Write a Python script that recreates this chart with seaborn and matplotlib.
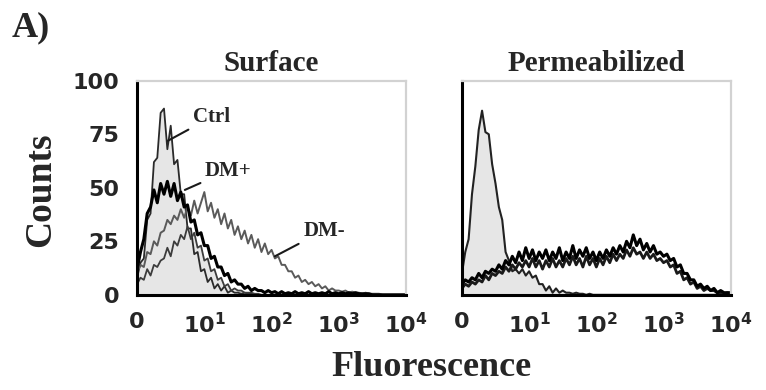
import matplotlib.pyplot as plt
import numpy as np
import pandas as pd
import seaborn as sns

# channel positions in decades of fluorescence (0 = 10^0 ... 4 = 10^4)
decades = np.round(np.arange(0, 4.001, 0.05), 2)
tick_pos = [0, 1, 2, 3, 4]
tick_labels = ["0", r"$\mathbf{10^{1}}$", r"$\mathbf{10^{2}}$",
               r"$\mathbf{10^{3}}$", r"$\mathbf{10^{4}}$"]
count_ticks = [0, 25, 50, 75, 100]

# Surface staining
surface_ctrl = [8, 15, 17, 35, 38, 62, 64, 85, 87, 68,
                79, 61, 63, 47, 47, 31, 31, 19, 20, 11,
                12, 6, 8, 3, 5, 2, 4, 1, 2, 1,
                1, 0.5, 1, 0.5, 0.5, 0, 0, 0, 0, 0,
                0, 0, 0, 0, 0, 0, 0, 0, 0, 0,
                0, 0, 0, 0, 0, 0, 0, 0, 0, 0,
                0, 0, 0, 0, 0, 0, 0, 0, 0, 0,
                0, 0, 0, 0, 0, 0, 0, 0, 0, 0,
                0]
surface_iso = [5, 8, 7, 12, 9, 14, 13, 16, 17, 22,
               18, 25, 23, 28, 26, 32, 26, 29, 22, 23,
               16, 17, 11, 12, 7, 8, 4, 5, 2, 3,
               2, 2, 1, 1, 1, 0.5, 0.5, 0, 0, 0,
               0, 0, 0, 0, 0, 0, 0, 0, 0, 0,
               0, 0, 0, 0, 0, 0, 0, 0, 0, 0,
               0, 0, 0, 0, 0, 0, 0, 0, 0, 0,
               0, 0, 0, 0, 0, 0, 0, 0, 0, 0,
               0]
surface_dm_plus = [12, 20, 26, 38, 41, 49, 43, 52, 47, 53,
                   46, 52, 44, 48, 41, 42, 34, 35, 28, 29,
                   23, 23, 17, 18, 13, 13, 9, 10, 6, 7,
                   5, 5, 3, 4, 2, 3, 2, 2, 1, 2,
                   1, 1.5, 0.5, 1.5, 0.5, 1, 0.5, 1.5, 0.5, 1,
                   0.5, 1.5, 0.5, 1, 0.5, 1, 0.5, 1.5, 0.5, 1,
                   0.5, 1, 0.5, 1, 0.5, 1, 0.5, 0.5, 0.5, 0.5,
                   0, 0, 0, 0, 0, 0, 0, 0, 0, 0,
                   0]
surface_dm_minus = [10, 14, 13, 20, 19, 25, 23, 29, 30, 35,
                    33, 37, 35, 40, 36, 41, 37, 44, 38, 43,
                    48, 39, 43, 36, 40, 33, 38, 31, 35, 28,
                    32, 26, 30, 24, 28, 22, 26, 20, 24, 19,
                    21, 17, 18, 14, 14, 11, 11, 8, 9, 6,
                    7, 5, 6, 4, 5, 3, 4, 2, 3, 2,
                    2, 1.5, 2, 1, 1.5, 1, 1, 0.5, 1, 0.5,
                    0.5, 0.5, 0.5, 0, 0, 0, 0, 0, 0, 0,
                    0]

# Permeabilized staining
perm_ctrl = [10, 20, 26, 47, 60, 77, 86, 76, 75, 61,
             52, 41, 35, 20, 16, 11, 12, 10, 12, 9,
             11, 8, 9, 5, 5, 2, 4, 1, 3, 1,
             2, 1, 1, 0.5, 1, 0.5, 0.5, 0, 0.5, 0,
             0, 0, 0, 0, 0, 0, 0, 0, 0, 0,
             0, 0, 0, 0, 0, 0, 0, 0, 0, 0,
             0, 0, 0, 0, 0, 0, 0, 0, 0, 0,
             0, 0, 0, 0, 0, 0, 0, 0, 0, 0,
             0]
perm_dm_plus = [5, 7, 6, 8, 7, 10, 8, 11, 10, 12,
                11, 14, 12, 16, 14, 18, 15, 20, 16, 22,
                17, 21, 16, 20, 17, 21, 16, 20, 17, 22,
                16, 20, 17, 23, 17, 21, 18, 22, 17, 20,
                16, 20, 17, 21, 18, 22, 19, 23, 20, 25,
                22, 28, 23, 26, 21, 24, 20, 23, 19, 20,
                18, 19, 16, 17, 13, 14, 10, 10, 7, 7,
                4, 5, 3, 4, 2, 3, 1, 2, 1, 1,
                1]
perm_dm_minus = [3, 5, 4, 6, 5, 7, 6, 9, 7, 10,
                 9, 11, 10, 13, 11, 14, 12, 15, 13, 16,
                 13, 17, 13, 16, 12, 16, 13, 17, 13, 16,
                 13, 17, 14, 18, 14, 17, 13, 18, 14, 17,
                 13, 17, 14, 18, 15, 19, 16, 19, 17, 21,
                 18, 22, 19, 20, 17, 20, 17, 19, 16, 17,
                 15, 16, 13, 14, 10, 11, 7, 8, 5, 6,
                 3, 4, 2, 3, 2, 2, 1, 1, 0.5, 1,
                 0.5]

SERIF = "Liberation Serif"
SANS = "DejaVu Sans"


def to_long(curves):
    frames = []
    for name, values in curves.items():
        frames.append(pd.DataFrame({"decade": decades, "count": values, "sample": name}))
    return pd.concat(frames, ignore_index=True)


def style_axes(ax, show_labels):
    ax.set_xlim(0, 4)
    ax.set_ylim(0, 100)
    ax.set_xticks(tick_pos)
    ax.set_yticks(count_ticks)
    ax.set_xticklabels(tick_labels)
    if show_labels:
        ax.set_yticklabels([str(t) for t in count_ticks])
    else:
        ax.set_yticklabels([])
    for lab in ax.get_xticklabels() + ax.get_yticklabels():
        lab.set_fontfamily(SANS)
        lab.set_fontweight("bold")
        lab.set_fontsize(16)
    ax.tick_params(axis="x", direction="out", length=9, width=2, pad=3, color="black")
    ax.tick_params(axis="y", direction="out", length=7, width=2, pad=6, color="black")
    for side in ["left", "bottom"]:
        ax.spines[side].set_color("black")
        ax.spines[side].set_linewidth(2.2)
    for side in ["top", "right"]:
        ax.spines[side].set_visible(True)
        ax.spines[side].set_color("#d2d2d2")
        ax.spines[side].set_linewidth(1.6)
    ax.set_xlabel("")
    ax.set_ylabel("")
    ax.grid(False)


sns.set_style("white")
plt.rcParams["mathtext.fontset"] = "dejavusans"

fig = plt.figure(figsize=(7.66, 3.9), dpi=100)
ax_surf = fig.add_axes([0.179, 0.244, 0.351, 0.549])
ax_perm = fig.add_axes([0.603, 0.244, 0.351, 0.549])

fill_color = "#e6e6e6"

# Surface panel
surf_df = to_long({"Ctrl": surface_ctrl, "Iso": surface_iso,
                   "DM-": surface_dm_minus, "DM+": surface_dm_plus})
ax_surf.fill_between(decades, surface_ctrl, color=fill_color, lw=0)
ax_surf.fill_between(decades, surface_iso, color=fill_color, lw=0)
sns.lineplot(data=surf_df, x="decade", y="count", hue="sample", ax=ax_surf,
             palette={"Ctrl": "#2a2a2a", "Iso": "#3c3c3c", "DM-": "#5a5a5a", "DM+": "#000000"},
             size="sample", sizes={"Ctrl": 1.3, "Iso": 1.3, "DM-": 1.4, "DM+": 2.2},
             legend=False)
style_axes(ax_surf, True)
ax_surf.set_title("Surface", fontfamily=SERIF, fontweight="bold", fontsize=21, pad=7)

note = dict(fontfamily=SERIF, fontweight="bold", fontsize=15, ha="left", va="center")
line = dict(arrowstyle="-", color="#1a1a1a", lw=1.5, shrinkA=1, shrinkB=0)
ax_surf.annotate("Ctrl", xy=(0.46, 72), xytext=(0.83, 83), arrowprops=line, **note)
ax_surf.annotate("DM+", xy=(0.71, 49), xytext=(1.01, 58), arrowprops=line, **note)
ax_surf.annotate("DM-", xy=(2.05, 18), xytext=(2.47, 30), arrowprops=line, **note)

# Permeabilized panel
perm_df = to_long({"Ctrl": perm_ctrl, "DM-": perm_dm_minus, "DM+": perm_dm_plus})
ax_perm.fill_between(decades, perm_ctrl, color=fill_color, lw=0)
sns.lineplot(data=perm_df, x="decade", y="count", hue="sample", ax=ax_perm,
             palette={"Ctrl": "#222222", "DM-": "#1a1a1a", "DM+": "#000000"},
             size="sample", sizes={"Ctrl": 1.5, "DM-": 2.0, "DM+": 2.2},
             legend=False)
style_axes(ax_perm, False)
ax_perm.set_title("Permeabilized", fontfamily=SERIF, fontweight="bold", fontsize=21, pad=7)

fig.text(41 / 766, 1 - 190 / 390, "Counts", rotation=90, ha="center", va="center",
         fontfamily=SERIF, fontweight="bold", fontsize=27)
fig.text(431 / 766, 1 - 367 / 390, "Fluorescence", ha="center", va="center",
         fontfamily=SERIF, fontweight="bold", fontsize=26)
fig.text(12 / 766, 1 - 28 / 390, "A)", ha="left", va="center",
         fontfamily=SERIF, fontweight="bold", fontsize=26)

fig.savefig("out.png", dpi=100, facecolor="white")
